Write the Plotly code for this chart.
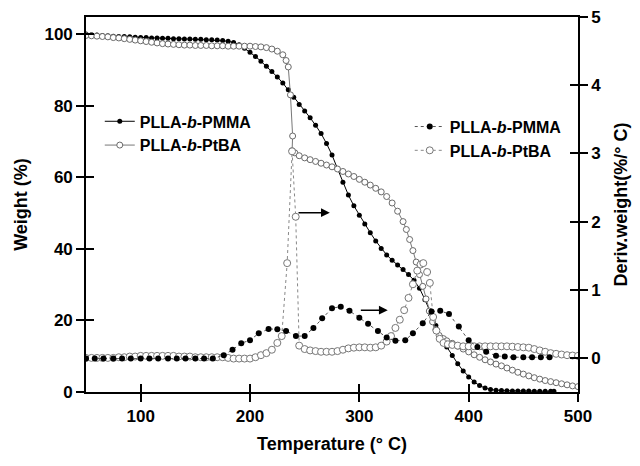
import plotly.graph_objects as go

# ---------------- data ----------------
tga_pmma_T = [50, 55, 60, 65, 70, 75, 80, 85, 90, 95, 100, 105, 110, 115, 120, 125, 130, 135, 140, 145,
              150, 155, 160, 165, 170, 175, 180, 185, 190, 195, 200, 205, 210, 215, 220, 225, 230, 235,
              240, 245, 250, 255, 260, 265, 270, 275, 280, 285, 290, 295, 300, 305, 310, 315, 320, 325,
              330, 335, 340, 345, 350, 355, 360, 365, 370, 375, 380, 385, 390, 395, 400, 405, 410, 415,
              420, 425, 430, 435, 440, 445, 450, 455, 460, 465, 470, 475, 478]
tga_pmma_W = [100.0, 99.8, 99.7, 99.6, 99.5, 99.4, 99.3, 99.3, 99.2, 99.1, 99.0, 99.0, 98.9, 98.9, 98.8,
              98.8, 98.7, 98.7, 98.6, 98.6, 98.5, 98.5, 98.4, 98.4, 98.3, 98.2, 98.0, 97.6, 97.0, 96.0,
              94.9, 93.7, 92.4, 91.0, 89.5, 88.0, 86.3, 84.4, 82.3, 80.3, 78.5, 76.6, 74.5, 72.2, 69.4,
              66.2, 62.4, 58.6, 55.0, 52.0, 49.4, 46.9, 44.5, 42.2, 40.1, 38.3, 36.8, 35.5, 34.2, 32.8,
              31.2, 29.0, 25.8, 22.2, 18.6, 15.2, 12.6, 10.2, 7.9, 5.9, 4.2, 2.8, 1.8, 1.1, 0.7, 0.5,
              0.4, 0.35, 0.3, 0.3, 0.25, 0.25, 0.2, 0.2, 0.2, 0.2, 0.2]

tga_ptba_T = [50, 55, 60, 65, 70, 75, 80, 85, 90, 95, 100, 105, 110, 115, 120, 125, 130, 135, 140, 145,
              150, 155, 160, 165, 170, 175, 180, 185, 190, 195, 200, 205, 210, 215, 220, 225, 230, 233,
              235, 237, 239, 238.5, 241, 245, 250, 255, 260, 265, 270, 275, 280, 285, 290, 295, 300, 305,
              310, 315, 320, 325, 330, 335, 340, 343, 346, 349, 352, 355, 358, 361, 364, 367, 370, 373,
              377, 380, 385, 390, 395, 400, 405, 410, 415, 420, 425, 430, 435, 440, 445, 450, 455, 460,
              465, 470, 475, 480, 485, 490, 495, 500]
tga_ptba_W = [99.6, 99.5, 99.4, 99.3, 99.2, 99.0, 98.9, 98.7, 98.5, 98.3, 98.1, 97.9, 97.7, 97.5, 97.3,
              97.2, 97.1, 97.0, 96.9, 96.9, 96.8, 96.8, 96.8, 96.7, 96.7, 96.7, 96.6, 96.6, 96.6, 96.6,
              96.6, 96.5, 96.4, 96.2, 95.8, 95.2, 94.2, 92.6, 90.8, 83.0, 71.5, 67.4, 66.8, 66.0, 65.4,
              64.9, 64.4, 63.9, 63.4, 62.9, 62.3, 61.6, 60.9, 60.2, 59.4, 58.6, 57.8, 56.9, 55.9, 54.6,
              52.8, 50.5, 47.6, 45.4, 42.6, 39.5, 36.3, 32.8, 29.5, 26.0, 22.6, 19.6, 17.4, 15.8, 14.9,
              14.3, 13.6, 12.8, 12.0, 11.2, 10.4, 9.7, 9.0, 8.4, 7.8, 7.3, 6.7, 6.1, 5.5, 5.0, 4.5, 4.0,
              3.6, 3.2, 2.9, 2.6, 2.3, 2.0, 1.7, 1.5]

dtg_pmma_T = [50, 58, 66, 75, 83, 91, 100, 108, 116, 125, 133, 141, 150, 158, 166, 176, 184, 192, 200,
              208, 217, 225, 233, 242, 250, 258, 266, 275, 283, 291, 300, 308, 317, 325, 333, 342, 349,
              358, 366, 374, 382, 391, 400, 408, 416, 425, 433, 441, 450, 458, 466, 474]
dtg_pmma_D = [-0.01, -0.01, -0.01, -0.01, -0.01, -0.01, -0.01, -0.01, -0.01, -0.01, -0.01, -0.01,
              -0.01, -0.01, -0.01, 0.04, 0.12, 0.215, 0.26, 0.36, 0.425, 0.42, 0.396, 0.32, 0.32, 0.44,
              0.58, 0.73, 0.75, 0.69, 0.59, 0.50, 0.396, 0.30, 0.25, 0.26, 0.36, 0.51, 0.68, 0.69,
              0.645, 0.46, 0.26, 0.16, 0.09, 0.03, 0.02, 0.01, 0.01, 0.01, 0.01, 0.01]

dtg_ptba_T = [50, 55, 60, 65, 70, 75, 80, 85, 90, 95, 100, 105, 110, 115, 120, 125, 130, 135, 140, 145,
              150, 155, 160, 165, 170, 175, 180, 185, 190, 195, 200, 205, 210, 215, 220, 225, 229, 234,
              238.5, 241.8, 245, 250, 255, 260, 265, 270, 275, 280, 285, 290, 295, 300, 305, 310, 315,
              320, 325, 329, 333, 337, 341, 345, 349, 353, 356, 358.5, 362, 364.5, 367.5, 370.5, 373.5,
              377, 381, 385, 390, 395, 400, 405, 410, 415, 420, 425, 430, 435, 440, 445, 450, 455, 460,
              465, 470, 475, 480, 485, 490, 495, 500]
dtg_ptba_D = [0.00, 0.00, 0.00, 0.00, 0.00, 0.00, 0.01, 0.01, 0.02, 0.02, 0.03, 0.03, 0.03, 0.03, 0.03,
              0.03, 0.03, 0.02, 0.02, 0.02, 0.01, 0.01, 0.01, 0.01, 0.01, 0.01, 0.00, -0.01, -0.01,
              -0.01, -0.01, 0.01, 0.04, 0.07, 0.12, 0.22, 0.32, 1.39, 3.03, 2.07, 0.18, 0.13, 0.11, 0.10,
              0.09, 0.09, 0.09, 0.10, 0.12, 0.14, 0.15, 0.155, 0.155, 0.15, 0.155, 0.18, 0.24, 0.32,
              0.44, 0.56, 0.70, 0.88, 1.08, 1.28, 1.37, 1.39, 1.26, 1.10, 0.60, 0.40, 0.28, 0.22, 0.20,
              0.19, 0.18, 0.17, 0.17, 0.17, 0.17, 0.17, 0.17, 0.17, 0.17, 0.17, 0.165, 0.16, 0.155,
              0.15, 0.13, 0.11, 0.09, 0.07, 0.06, 0.05, 0.04, 0.035, 0.03]

name_pmma = "PLLA-<i>b</i>-PMMA"
name_ptba = "PLLA-<i>b</i>-PtBA"

x_ticks = [100, 200, 300, 400, 500]
w_ticks = [0, 20, 40, 60, 80, 100]
d_ticks = [0, 1, 2, 3, 4, 5]
x_range = [50, 500]
w_range = [0, 104.75]
d_range = [-0.5, 5.0]

# annotation arrows (tail T, head T, level on right axis)
arrow1 = (243, 273, 2.13)
arrow2 = (300, 326, 0.70)

FONT = "Liberation Sans, Arial, sans-serif"

fig = go.Figure()

fig.add_trace(go.Scatter(
    x=tga_pmma_T, y=tga_pmma_W, name=name_pmma, mode="lines+markers",
    line=dict(color="black", width=1),
    marker=dict(symbol="circle", size=5, color="black"),
    legend="legend", yaxis="y"))
fig.add_trace(go.Scatter(
    x=tga_ptba_T, y=tga_ptba_W, name=name_ptba, mode="lines+markers",
    line=dict(color="#777777", width=1),
    marker=dict(symbol="circle", size=6, color="white", line=dict(color="#6a6a6a", width=1)),
    legend="legend", yaxis="y"))
fig.add_trace(go.Scatter(
    x=dtg_ptba_T, y=dtg_ptba_D, name=name_ptba, mode="lines+markers",
    line=dict(color="#888888", width=1, dash="dot"),
    marker=dict(symbol="circle", size=7, color="white", line=dict(color="#777777", width=1)),
    legend="legend2", yaxis="y2", legendrank=2))
fig.add_trace(go.Scatter(
    x=dtg_pmma_T, y=dtg_pmma_D, name=name_pmma, mode="lines+markers",
    line=dict(color="#555555", width=1, dash="dot"),
    marker=dict(symbol="circle", size=6, color="black"),
    legend="legend2", yaxis="y2", legendrank=1))

# empty helper traces so the tick-only overlay axes (crossing ticks) are drawn
fig.add_trace(go.Scatter(x=[], y=[], xaxis="x2", yaxis="y", showlegend=False, hoverinfo="skip"))
fig.add_trace(go.Scatter(x=[], y=[], xaxis="x", yaxis="y3", showlegend=False, hoverinfo="skip"))
fig.add_trace(go.Scatter(x=[], y=[], xaxis="x", yaxis="y4", showlegend=False, hoverinfo="skip"))

for (t0, t1, lvl) in (arrow1, arrow2):
    fig.add_annotation(x=t1, y=lvl, ax=t0, ay=lvl, xref="x", yref="y2", axref="x", ayref="y2",
                       text="", showarrow=True, arrowhead=2, arrowsize=1.1, arrowwidth=1.6,
                       arrowcolor="black")

tickfont = dict(family=FONT, size=17, color="black", weight="bold")
titlefont = dict(family=FONT, size=18, color="black", weight="bold")
legfont = dict(family=FONT, size=16, color="black", weight="bold")
common = dict(showgrid=False, zeroline=False, tickcolor="black", tickwidth=1.5, ticklen=8)

fig.update_layout(
    width=640, height=466,
    margin=dict(l=86, r=62, t=17, b=74, autoexpand=False),
    paper_bgcolor="white", plot_bgcolor="white",
    font=dict(family=FONT, color="black"),
    xaxis=dict(range=x_range, tickvals=x_ticks, ticks="outside", showline=True, linecolor="black",
               linewidth=1.6, mirror=True, tickfont=tickfont,
               title=dict(text="Temperature (° C)", font=titlefont, standoff=12), **common),
    xaxis2=dict(range=x_range, tickvals=x_ticks, ticks="inside", overlaying="x", anchor="y",
                side="bottom", showticklabels=False, showline=False, **common),
    yaxis=dict(range=w_range, tickvals=w_ticks, ticks="outside", showline=True, linecolor="black",
               linewidth=1.6, tickfont=tickfont,
               title=dict(text="Weight (%)", font=titlefont, standoff=12), **common),
    yaxis2=dict(range=d_range, tickvals=d_ticks, ticks="outside", overlaying="y", side="right",
                showline=True, linecolor="black", linewidth=1.6, tickfont=tickfont,
                title=dict(text="Deriv.weight(%/° C)", font=titlefont, standoff=14), **common),
    yaxis3=dict(range=w_range, tickvals=w_ticks, ticks="inside", overlaying="y", side="left",
                showticklabels=False, showline=False, **common),
    yaxis4=dict(range=d_range, tickvals=d_ticks, ticks="inside", overlaying="y", side="right",
                showticklabels=False, showline=False, **common),
    legend=dict(x=0.028, y=0.767, xanchor="left", yanchor="top", bgcolor="rgba(0,0,0,0)",
                font=legfont, tracegroupgap=4, itemwidth=30),
    legend2=dict(x=0.658, y=0.753, xanchor="left", yanchor="top", bgcolor="rgba(0,0,0,0)",
                 font=legfont, tracegroupgap=4, itemwidth=30, traceorder="normal"),
    showlegend=True,
)

fig.write_html("out.html")
